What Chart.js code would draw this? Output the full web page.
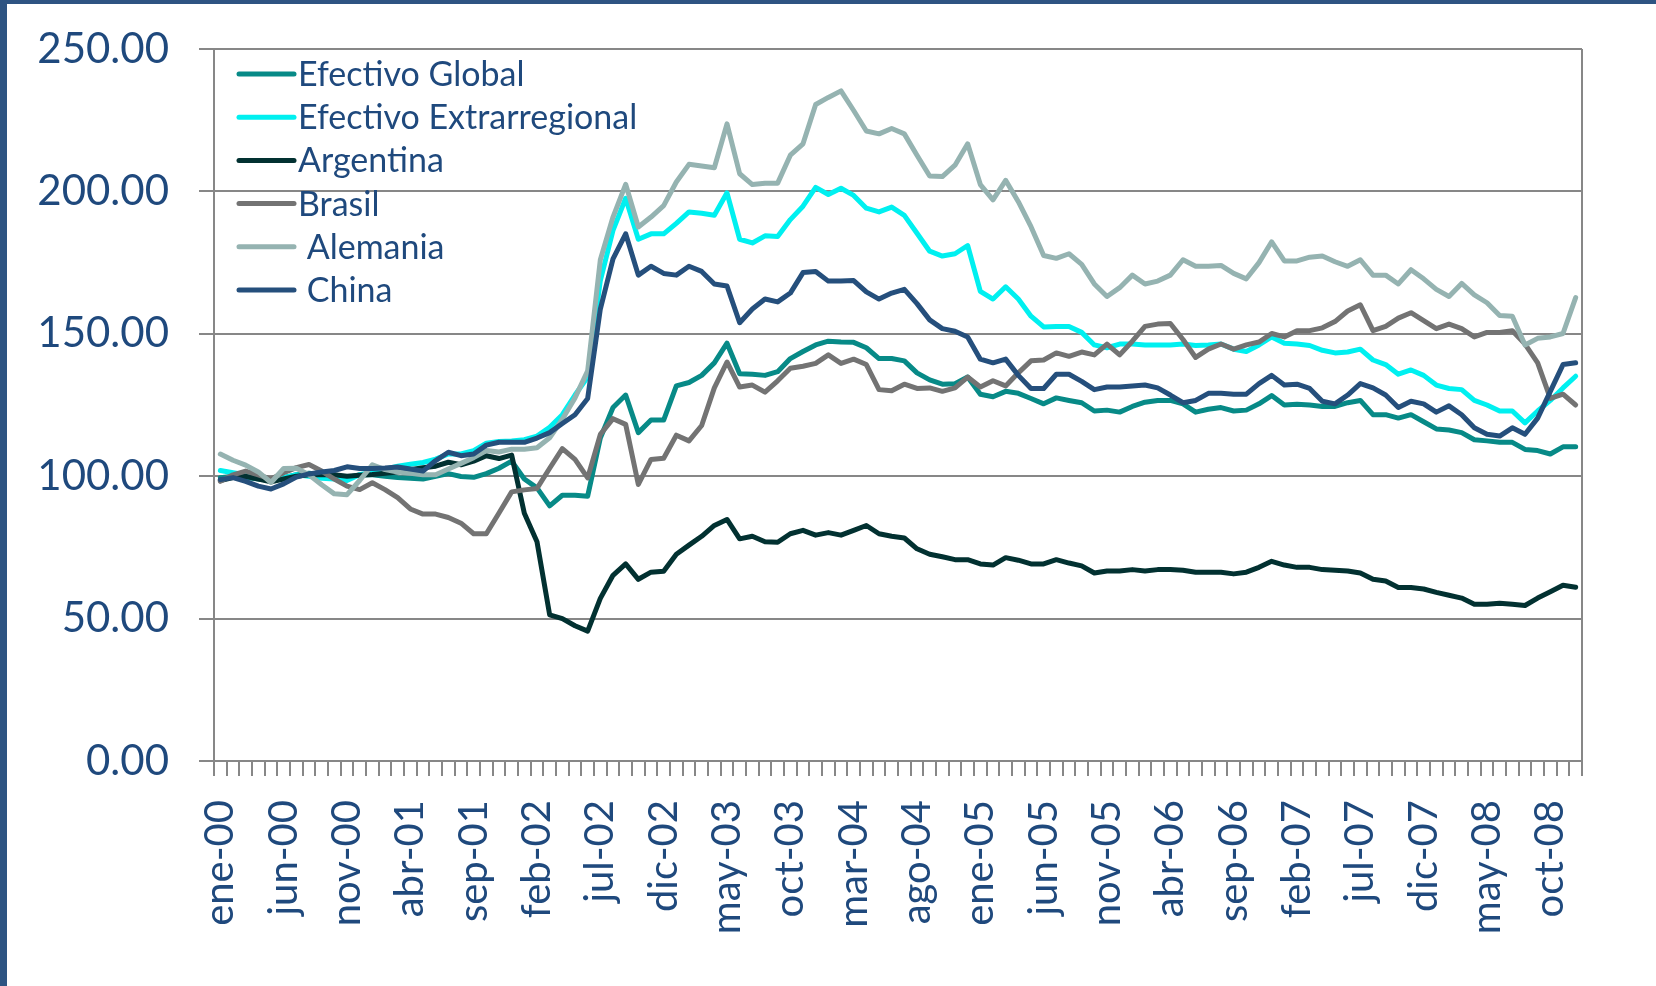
<!DOCTYPE html>
<html lang="es">
<head>
<meta charset="utf-8">
<title>Efectivo</title>
<script src="https://cdn.jsdelivr.net/npm/chart.js@4.4.0/dist/chart.umd.min.js"></script>
<style>
  html, body { margin: 0; padding: 0; background: #fff; }
  #marco { position: relative; width: 1656px; height: 986px; }
  #grafico { position: absolute; left: 0; top: 0; }
  .borde { position: absolute; background: #2E5482; }
</style>
</head>
<body>
<div id="marco">
  <canvas id="grafico" width="1656" height="986"></canvas>
  <div class="borde" style="left:0;top:0;width:7px;height:986px"></div>
  <div class="borde" style="left:0;top:0;width:1656px;height:4px"></div>
</div>
<script>
// Meses y años del eje X (ene-00 a dic-08)
const meses = ["ene", "feb", "mar", "abr", "may", "jun", "jul", "ago", "sep", "oct", "nov", "dic"];
const anios = ["00", "01", "02", "03", "04", "05", "06", "07", "08"];

// Valores del eje Y
const ticksY = [0, 50, 100, 150, 200, 250];

// Series (índice)
const efectivoGlobal = [
  99.5, 100, 99.5, 99, 98.5, 99.5, 100.5, 101, 100.5, 100, 99.5, 100.5, 100.5, 100, 99.5, 99.3, 99, 100,
  100.9, 99.9, 99.6, 100.9, 102.8, 105.3, 99, 95.9, 89.6, 93.3, 93.3, 93, 113.4, 124.1, 128.5, 115.3, 119.7, 119.7,
  131.7, 132.9, 135.4, 139.8, 146.7, 136, 135.8, 135.4, 136.7, 141.3, 143.8, 146.1, 147.4, 147.1, 147, 145.1, 141.3, 141.3,
  140.5, 136.3, 133.8, 132.3, 132.5, 134.8, 128.8, 127.9, 129.8, 129.1, 127.3, 125.4, 127.5, 126.6, 125.8, 122.9, 123.2, 122.5,
  124.5, 126, 126.6, 126.6, 125.4, 122.5, 123.5, 124.1, 122.9, 123.2, 125.4, 128.3, 125, 125.3, 125, 124.5, 124.5, 125.8,
  126.6, 121.6, 121.6, 120.4, 121.6, 119.1, 116.6, 116.2, 115.3, 112.8, 112.4, 111.9, 111.9, 109.4, 109, 107.8, 110.3, 110.3
];

const efectivoExtrarregional = [
  102, 101.2, 100.5, 99.5, 98.5, 99.5, 100.5, 100, 99.3, 99, 98.5, 100.5, 101.5, 102.5, 103.5, 104.2, 104.8, 106,
  107.8, 107.8, 109, 111.6, 112.2, 112.4, 112.8, 114.1, 117.2, 121.6, 128.5, 134.8, 168.7, 186.3, 197.6, 183.2, 185.1, 185.1,
  188.8, 192.8, 192.3, 191.6, 199.5, 183.2, 181.9, 184.4, 184.2, 190.1, 194.8, 201.4, 198.9, 201.1, 198.6, 194.1, 192.8, 194.5,
  191.6, 185.3, 179, 177.3, 178.1, 181, 164.9, 162.2, 166.5, 162.2, 156.2, 152.4, 152.6, 152.6, 150.5, 146.1, 145.1, 146.4,
  146.4, 146.1, 146.1, 146.1, 146.4, 145.9, 146.1, 146.4, 144.6, 143.8, 146.1, 148.9, 146.7, 146.4, 145.9, 144.2, 143.3, 143.6,
  144.6, 140.8, 139.2, 135.8, 137.3, 135.4, 132, 130.8, 130.4, 126.6, 125, 122.9, 122.9, 118.7, 122.9, 126.6, 131, 135.1
];

const argentina = [
  98.5, 99.5, 100, 99, 98, 99, 100, 100.5, 100.5, 100.5, 100, 100.3, 100.6, 101, 101.5, 102.3, 103, 103.5,
  104.9, 104, 105.3, 107.2, 106.2, 107.4, 87, 77, 51.3, 50, 47.5, 45.6, 57.1, 65.2, 69.2, 63.8, 66.3, 66.6,
  72.6, 75.8, 78.9, 82.7, 84.8, 78, 78.9, 77, 76.8, 79.8, 81, 79.3, 80.2, 79.3, 81, 82.7, 79.8, 78.9,
  78.3, 74.5, 72.6, 71.7, 70.7, 70.7, 69.2, 68.8, 71.4, 70.5, 69.2, 69.2, 70.7, 69.5, 68.5, 66, 66.7, 66.7,
  67.2, 66.7, 67.2, 67.2, 67, 66.3, 66.3, 66.3, 65.7, 66.3, 68, 70.1, 68.8, 68, 68, 67.2, 67, 66.7,
  66, 63.8, 63.2, 60.9, 60.9, 60.4, 59.2, 58.2, 57.2, 55, 55, 55.4, 55, 54.6, 57.2, 59.4, 61.7, 61
];

const brasil = [
  98.2, 100.5, 101.8, 100.5, 99, 101.2, 103, 104.1, 101.8, 99, 96.5, 95.3, 97.7, 95.3, 92.5, 88.5, 86.7, 86.7,
  85.5, 83.5, 79.8, 79.8, 87.1, 94.5, 95.2, 95.7, 102.8, 109.7, 105.9, 99.4, 114.7, 120.2, 118.2, 97.1, 105.9, 106.3,
  114.4, 112.4, 117.8, 131, 140.1, 131.3, 132, 129.5, 133.5, 137.9, 138.6, 139.6, 142.6, 139.6, 141.1, 139.2, 130.4, 130,
  132.3, 130.8, 131, 129.8, 131, 134.8, 131.3, 133.5, 131.7, 136.3, 140.5, 140.8, 143.3, 142.1, 143.6, 142.6, 146.4, 142.6,
  147.4, 152.6, 153.4, 153.6, 148, 141.7, 144.6, 146.4, 144.6, 146.1, 147.1, 150.1, 148.9, 151.1, 151.1, 152.1, 154.3, 158,
  160.2, 151.1, 152.6, 155.5, 157.4, 154.6, 151.8, 153.4, 151.8, 148.9, 150.5, 150.5, 151.1, 146.4, 139.8, 127.3, 128.8, 125
];

const alemania = [
  107.8, 105.6, 103.9, 101.5, 97.8, 102.7, 102.8, 100.5, 97, 93.8, 93.5, 98.5, 104, 102.3, 101.5, 101, 100.5, 100.5,
  102.5, 104.5, 106.5, 109, 108.5, 109.5, 109.5, 110, 113.5, 120, 127.5, 137, 176, 191, 202.5, 187.5, 191, 195,
  203.3, 209.5, 208.9, 208.3, 223.7, 206.2, 202.4, 202.9, 202.9, 212.7, 216.7, 230.5, 233, 235.3, 228.4, 221.2, 220.2, 222.1,
  220.2, 212.7, 205.4, 205.2, 209.2, 216.7, 202.4, 197, 203.9, 196.4, 187.6, 177.5, 176.5, 178.1, 174.4, 167.5, 163.1, 166.2,
  170.6, 167.5, 168.5, 170.6, 176, 173.7, 173.7, 174, 171.2, 169.3, 175, 182.3, 175.6, 175.6, 176.9, 177.3, 175.3, 173.7,
  176, 170.6, 170.6, 167.5, 172.5, 169.3, 165.6, 163.1, 167.7, 163.7, 160.9, 156.4, 156.2, 146.1, 148.4, 148.9, 150.1, 162.7
];

const china = [
  98.8, 99.5, 98.2, 96.5, 95.5, 97.3, 99.7, 100.8, 101.5, 102, 103.3, 102.7, 102.7, 102.9, 103.2, 102.5, 101.8, 105.5,
  108.4, 107.2, 107.8, 110.9, 111.9, 111.9, 111.9, 113.4, 115.3, 118.5, 121.6, 127.3, 158.7, 176.3, 185.1, 170.6, 173.7, 171.2,
  170.6, 173.7, 171.9, 167.5, 166.8, 153.9, 158.7, 162.2, 161.2, 164.3, 171.5, 171.9, 168.5, 168.5, 168.7, 164.7, 162.2, 164.3,
  165.6, 160.6, 154.9, 151.8, 150.9, 148.9, 141.1, 139.8, 141.1, 135.4, 130.8, 130.8, 135.8, 135.8, 133.3, 130.4, 131.3, 131.3,
  131.7, 132, 131, 128.5, 125.8, 126.6, 129.1, 129.1, 128.8, 128.8, 132.5, 135.4, 132, 132.3, 130.8, 126.3, 125.4, 128.5,
  132.5, 131, 128.5, 124.1, 126.3, 125.4, 122.5, 124.7, 121.6, 117, 114.7, 114.1, 117, 114.7, 120.4, 129.8, 139.2, 139.8
];

// Categorías mensuales
const categorias = [];
anios.forEach((a) => meses.forEach((m) => categorias.push(`${m}-${a}`)));

const colorTexto = "#1F497D";
const colorEje = "#878787";

// Series en el orden de la leyenda
const series = [
  { nombre: "Efectivo Global", datos: efectivoGlobal, color: "#078A87" },
  { nombre: "Efectivo Extrarregional", datos: efectivoExtrarregional, color: "#00F0F0" },
  { nombre: "Argentina", datos: argentina, color: "#023131" },
  { nombre: "Brasil", datos: brasil, color: "#737373" },
  { nombre: " Alemania", datos: alemania, color: "#95B3B1" },
  { nombre: " China", datos: china, color: "#254F7C" },
];

// Leyenda dibujada dentro del área del gráfico, arriba a la izquierda
const leyendaInterna = {
  id: "leyendaInterna",
  afterDatasetsDraw(chart) {
    const { ctx, chartArea } = chart;
    ctx.save();
    ctx.font = "34px Lato";
    ctx.textBaseline = "middle";
    ctx.lineCap = "round";
    series.forEach((s, i) => {
      const y = chartArea.top + 25 + i * 43.2;
      ctx.strokeStyle = s.color;
      ctx.lineWidth = 5;
      ctx.beginPath();
      ctx.moveTo(chartArea.left + 25, y);
      ctx.lineTo(chartArea.left + 80, y);
      ctx.stroke();
      ctx.fillStyle = colorTexto;
      ctx.fillText(s.nombre, chartArea.left + 84, y + 1);
    });
    ctx.restore();
  },
};

// Borde derecho del área de trazado
const bordeDerecho = {
  id: "bordeDerecho",
  beforeDatasetsDraw(chart) {
    const { ctx, chartArea } = chart;
    ctx.save();
    ctx.strokeStyle = colorEje;
    ctx.lineWidth = 2;
    ctx.beginPath();
    ctx.moveTo(chartArea.right, chartArea.top);
    ctx.lineTo(chartArea.right, chartArea.bottom);
    ctx.stroke();
    ctx.restore();
  },
};

const crearGrafico = () => {
  const ctx = document.getElementById("grafico").getContext("2d");

  new Chart(ctx, {
    type: "line",
    data: {
      labels: categorias,
      datasets: series.map((s, i) => ({
        label: s.nombre,
        data: s.datos,
        borderColor: s.color,
        backgroundColor: s.color,
        borderWidth: 5,
        borderJoinStyle: "round",
        borderCapStyle: "round",
        pointRadius: 0,
        tension: 0,
        order: series.length - i,
      })),
    },
    options: {
      responsive: false,
      animation: false,
      devicePixelRatio: 1,
      layout: { padding: { top: 49, right: 74, left: 0, bottom: 0 } },
      plugins: { legend: { display: false }, tooltip: { enabled: false } },
      scales: {
        x: {
          offset: true,
          afterFit: (escala) => {
            escala.height = 225;
            escala.paddingLeft = 0;
            escala.paddingRight = 0;
          },
          grid: {
            offset: true,
            drawOnChartArea: false,
            drawTicks: true,
            tickLength: 15,
            color: colorEje,
            lineWidth: 2,
          },
          border: { color: colorEje, width: 2 },
          ticks: {
            autoSkip: false,
            maxRotation: 90,
            minRotation: 90,
            padding: 24,
            color: colorTexto,
            font: { family: "Lato", size: 40 },
            callback: (valor, indice) => (indice % 5 === 0 ? categorias[indice] : ""),
          },
        },
        y: {
          min: ticksY[0],
          max: ticksY[ticksY.length - 1],
          afterFit: (escala) => {
            escala.width = 214;
            // la etiqueta superior no debe empujar el área de trazado
            escala.paddingTop = 0;
            escala.paddingBottom = 0;
          },
          afterBuildTicks: (escala) => { escala.ticks = ticksY.map((v) => ({ value: v })); },
          grid: { color: colorEje, lineWidth: 2, tickLength: 15 },
          border: { color: colorEje, width: 2 },
          ticks: {
            padding: 30,
            color: colorTexto,
            font: { family: "Lato", size: 42 },
            callback: (valor) => valor.toFixed(2),
          },
        },
      },
    },
    plugins: [bordeDerecho, leyendaInterna],
  });
};

document.fonts.load("40px Lato").then(crearGrafico, crearGrafico);
</script>
</body>
</html>
